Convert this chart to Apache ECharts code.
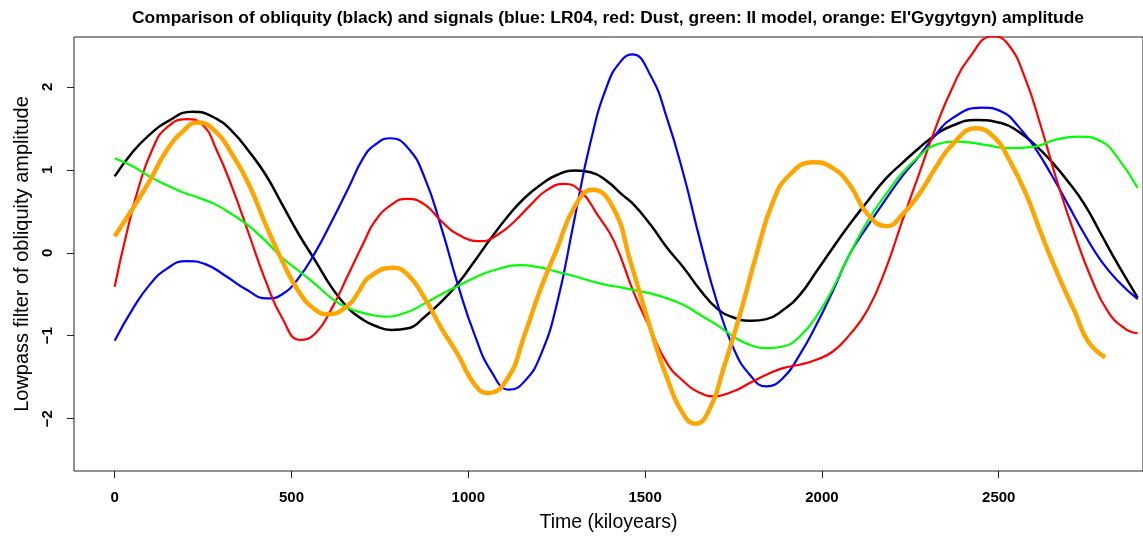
<!DOCTYPE html>
<html>
<head>
<meta charset="utf-8">
<script src="https://cdn.jsdelivr.net/npm/echarts@6/dist/echarts.min.js"></script>
<style>html,body{margin:0;padding:0;background:#fff;}#c{width:1143px;height:538px;}</style>
</head>
<body>
<div id="c"></div>
<script>
var xTicks = [0, 500, 1000, 1500, 2000, 2500];
var yTicks = [-2, -1, 0, 1, 2];

var obliquity = [[0,0.92],[52,1.22],[98,1.42],[145,1.57],[220,1.70],[286,1.62],[333,1.46],[380,1.22],[427,0.94],[474,0.58],[521,0.22],[568,-0.10],[614,-0.42],[661,-0.67],[700,-0.80],[736,-0.88],[783,-0.93],[830,-0.91],[877,-0.77],[924,-0.59],[971,-0.37],[1018,-0.10],[1065,0.18],[1112,0.44],[1159,0.66],[1205,0.82],[1252,0.94],[1303,0.99],[1346,0.97],[1393,0.86],[1435,0.70],[1468,0.58],[1515,0.34],[1562,0.06],[1609,-0.18],[1656,-0.45],[1703,-0.67],[1750,-0.78],[1801,-0.82],[1843,-0.80],[1890,-0.69],[1937,-0.51],[1984,-0.23],[2031,0.06],[2078,0.34],[2129,0.62],[2180,0.89],[2227,1.08],[2274,1.26],[2321,1.42],[2368,1.53],[2434,1.60],[2509,1.56],[2556,1.46],[2603,1.30],[2649,1.10],[2696,0.86],[2743,0.58],[2790,0.22],[2837,-0.14],[2893,-0.54]];

var lr04 = [[0,-1.06],[52,-0.67],[98,-0.39],[145,-0.20],[203,-0.10],[258,-0.14],[314,-0.28],[371,-0.44],[431,-0.55],[474,-0.50],[521,-0.30],[568,0.01],[614,0.38],[661,0.78],[704,1.15],[736,1.30],[779,1.38],[830,1.26],[877,0.90],[924,0.30],[971,-0.39],[1018,-0.99],[1065,-1.43],[1116,-1.65],[1159,-1.55],[1205,-1.23],[1252,-0.59],[1299,0.38],[1346,1.34],[1393,2.02],[1430,2.30],[1463,2.39],[1515,2.14],[1562,1.62],[1609,0.94],[1656,0.14],[1703,-0.59],[1750,-1.15],[1796,-1.47],[1843,-1.61],[1890,-1.51],[1937,-1.23],[1984,-0.87],[2031,-0.46],[2078,-0.02],[2129,0.32],[2180,0.64],[2227,0.92],[2274,1.16],[2321,1.42],[2368,1.62],[2452,1.75],[2509,1.70],[2556,1.52],[2603,1.26],[2649,0.94],[2696,0.58],[2743,0.22],[2790,-0.10],[2837,-0.34],[2893,-0.56]];

var dust = [[0,-0.41],[33,0.22],[70,0.82],[108,1.26],[145,1.50],[203,1.61],[249,1.54],[286,1.26],[333,0.78],[380,0.22],[427,-0.34],[474,-0.79],[525,-1.05],[568,-0.97],[614,-0.67],[661,-0.26],[704,0.12],[736,0.38],[783,0.58],[826,0.65],[877,0.58],[924,0.38],[971,0.22],[1036,0.14],[1084,0.22],[1131,0.38],[1177,0.58],[1224,0.76],[1271,0.83],[1318,0.74],[1365,0.46],[1412,0.14],[1468,-0.48],[1515,-0.92],[1562,-1.33],[1609,-1.55],[1656,-1.69],[1693,-1.73],[1750,-1.67],[1796,-1.57],[1843,-1.47],[1890,-1.39],[1937,-1.35],[1984,-1.29],[2031,-1.19],[2078,-0.99],[2129,-0.69],[2180,-0.20],[2227,0.38],[2274,0.94],[2321,1.50],[2368,1.98],[2415,2.34],[2485,2.61],[2527,2.51],[2574,2.11],[2621,1.50],[2668,0.82],[2715,0.22],[2762,-0.31],[2809,-0.71],[2856,-0.91],[2893,-0.97]];

var iiModel = [[0,1.14],[52,1.04],[98,0.92],[145,0.82],[192,0.73],[239,0.66],[286,0.58],[333,0.46],[380,0.32],[427,0.14],[474,-0.06],[521,-0.22],[568,-0.38],[614,-0.55],[661,-0.67],[718,-0.74],[765,-0.77],[830,-0.71],[877,-0.61],[924,-0.50],[971,-0.40],[1018,-0.30],[1065,-0.22],[1145,-0.15],[1205,-0.18],[1252,-0.23],[1299,-0.28],[1346,-0.34],[1393,-0.39],[1435,-0.42],[1468,-0.45],[1515,-0.49],[1562,-0.55],[1609,-0.63],[1656,-0.75],[1703,-0.87],[1750,-1.01],[1796,-1.11],[1848,-1.15],[1890,-1.13],[1937,-1.01],[1984,-0.77],[2031,-0.43],[2078,-0.02],[2129,0.38],[2180,0.70],[2227,0.96],[2274,1.16],[2321,1.30],[2387,1.34],[2462,1.30],[2527,1.26],[2603,1.28],[2659,1.36],[2724,1.40],[2790,1.34],[2837,1.14],[2893,0.78]];

var elgygytgyn = [[0,0.20],[52,0.54],[98,0.86],[145,1.22],[192,1.46],[235,1.57],[286,1.46],[333,1.18],[380,0.82],[427,0.34],[474,-0.10],[521,-0.47],[568,-0.69],[605,-0.74],[661,-0.63],[690,-0.47],[718,-0.30],[788,-0.18],[830,-0.27],[877,-0.55],[924,-0.91],[971,-1.23],[1018,-1.59],[1055,-1.69],[1112,-1.51],[1159,-0.99],[1205,-0.43],[1252,0.06],[1299,0.54],[1351,0.76],[1410,0.54],[1458,-0.10],[1515,-0.91],[1562,-1.51],[1609,-1.95],[1642,-2.06],[1684,-1.87],[1722,-1.39],[1768,-0.75],[1815,-0.02],[1862,0.62],[1909,0.94],[1975,1.09],[2031,1.02],[2078,0.82],[2130,0.46],[2184,0.32],[2227,0.46],[2274,0.70],[2321,1.02],[2368,1.30],[2436,1.50],[2490,1.38],[2527,1.14],[2574,0.74],[2621,0.22],[2668,-0.27],[2715,-0.71],[2753,-1.07],[2801,-1.26]];

var chart = echarts.init(document.getElementById('c'));
function line(name, data, color, width) {
  return {name: name, type: 'line', data: data, showSymbol: false, symbol: 'none',
    smooth: 0.5, lineStyle: {color: color, width: width}, clip: true, animation: false};
}
var F = 'Liberation Sans';
chart.setOption({
  animation: false,
  backgroundColor: '#fff',
  title: {
    text: "Comparison of obliquity (black) and signals (blue: LR04, red: Dust, green: II model, orange: El'Gygytgyn) amplitude",
    left: 603, top: 5, textAlign: 'center',
    textStyle: {fontFamily: F, fontSize: 17.4, fontWeight: 'bold', color: '#000'}
  },
  grid: {left: 74, top: 37, bottom: 67, right: -5, show: true, borderColor: '#222', borderWidth: 1, backgroundColor: 'transparent'},
  xAxis: {
    type: 'value', min: -115, max: 2908,
    name: 'Time (kiloyears)', nameLocation: 'middle', nameGap: 42,
    nameTextStyle: {fontFamily: F, fontSize: 19.5, color: '#000'},
    axisLine: {show: false, onZero: false},
    splitLine: {show: false},
    axisTick: {show: true, customValues: xTicks, length: 7, lineStyle: {color: '#222'}},
    axisLabel: {customValues: xTicks, margin: 19.5, fontFamily: F, fontSize: 15, fontWeight: 'bold', color: '#000',
      formatter: function (v) { return String(v); }}
  },
  yAxis: {
    type: 'value', min: -2.63, max: 2.60,
    name: 'Lowpass filter of obliquity amplitude', nameLocation: 'middle', nameGap: 39, nameRotate: 90,
    nameTextStyle: {fontFamily: F, fontSize: 20, color: '#000'},
    axisLine: {show: false, onZero: false},
    splitLine: {show: false},
    axisTick: {show: true, customValues: yTicks, length: 7, lineStyle: {color: '#222'}},
    axisLabel: {customValues: yTicks, rotate: 90, margin: 19, fontFamily: F, fontSize: 15, fontWeight: 'bold', color: '#000',
      formatter: function (v) { return v < 0 ? '\u2212' + Math.abs(v) : String(v); }}
  },
  series: [
    line('obliquity', obliquity, '#000000', 2.5),
    line('LR04', lr04, '#0000FF', 2.2),
    line('Dust', dust, '#FF0000', 2.2),
    line('II model', iiModel, '#00FF00', 2.2),
    line("El'Gygytgyn", elgygytgyn, '#FFA500', 4.5)
  ]
});
</script>
</body>
</html>
